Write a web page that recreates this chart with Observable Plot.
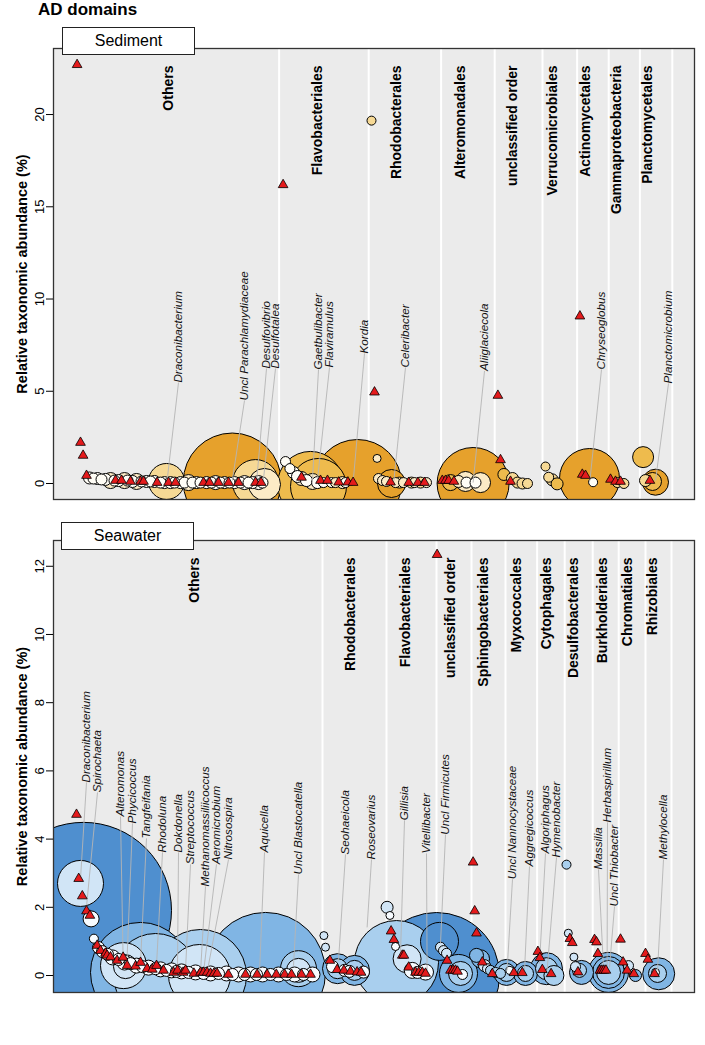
<!DOCTYPE html>
<html><head><meta charset="utf-8">
<script src="https://cdn.jsdelivr.net/npm/d3@7"></script>
<script src="https://cdn.jsdelivr.net/npm/@observablehq/plot@0.6"></script>
<style>
body{margin:0;background:#fff;font-family:"Liberation Sans",Arial,Helvetica,sans-serif;}
#wrap{position:relative;width:705px;height:1045px;overflow:hidden;}
.panel{position:absolute;left:0;}
.title{position:absolute;left:38px;top:0px;font-weight:bold;font-size:17px;line-height:20px;}
.box{position:absolute;box-sizing:border-box;width:133px;height:28px;border:1.5px solid #222;background:#fff;font-size:16px;text-align:center;line-height:25px;z-index:2;}
</style></head>
<body><div id="wrap">
<div class="title">AD domains</div>
<div id="p1" class="panel" style="top:0px"></div>
<div id="p2" class="panel" style="top:505px"></div>
<div class="box" style="left:62px;top:27px">Sediment</div>
<div class="box" style="left:61px;top:522px">Seawater</div>
</div>
<script>
// ---------- shared ----------
const shadeNames = ["dark", "mid", "light", "pale", "white"];
const sedimentPalette = ["#e6a12c", "#eebb4d", "#f6d995", "#fcebc6", "#fffdf6"];
const seawaterPalette = ["#4f8fcf", "#80b5e4", "#a9cfee", "#d1e5f6", "#f7fbff"];

// ---------- Sediment ----------
const sedimentTicks = [0, 5, 10, 15, 20];
const sedimentSeparators = [56.4, 78.8, 96.9, 110.3, 122.25, 130.9, 138.8, 146.6, 154.7];
const sedimentOrders = [["Others", 28.75], ["Flavobacteriales", 65.9], ["Rhodobacterales", 85.75], ["Alteromonadales", 101.75], ["unclassified order", 114.7], ["Verrucomicrobiales", 124.7], ["Actinomycetales", 133], ["Gammaproteobacteria", 140.75], ["Planctomycetales", 148.5]];
// [rank position, abundance %, bubble size, shade]
const sedimentBubbles = [
  [28.25, 0.11, 3.6, "light"], [44.7, 0.08, 9.8, "dark"], [50.5, 0.05, 4.6, "light"], [52.75, -0.05, 3.2, "pale"],
  [64.25, -0.05, 6.6, "mid"], [66.25, -0.16, 5.6, "mid"], [76.0, 0, 8.8, "dark"],
  [80.9, 1.36, 0.8, "pale"], [79.5, 19.67, 0.9, "light"], [84.5, 0, 2.8, "dark"],
  [104.9, 0, 7.2, "dark"], [99.25, 0.05, 1.6, "mid"], [103.0, 0.11, 2.0, "pale"], [106.75, 0.05, 2.0, "pale"],
  [103.25, 0.05, 1.1, "white"], [105.5, 0.05, 1.1, "white"], [101.25, 0.11, 1.2, "pale"],
  [112.6, 0.49, 1.2, "mid"], [114.75, 0.27, 1.2, "light"], [116, 0.05, 1.1, "light"], [117.25, 0, 1.1, "light"], [118.5, 0, 1.0, "light"],
  [123, 0.92, 0.9, "light"], [123.8, 0.34, 1.0, "light"], [124.7, 0.2, 1.2, "light"], [125.9, -0.02, 1.2, "mid"],
  [134, 0.27, 6.0, "dark"], [134.9, 0.07, 0.9, "white"], [141, 0.05, 1.0, "light"], [142.6, 0, 1.0, "light"],
  [147.4, 1.43, 2.1, "mid"], [150.5, 0.07, 2.6, "dark"], [149.75, 0.11, 1.8, "mid"], [148, 0.16, 1.2, "light"],
  [9, 0.3, 1.2, "white"], [10, 0.27, 1.1, "white"], [11, 0.27, 1.2, "white"], [12, 0.22, 1.1, "white"], [13, 0.22, 1.2, "white"],
  [14.25, 0.16, 1.6, "pale"], [15.25, 0.16, 1.1, "white"], [16.25, 0.16, 1.2, "white"], [17.75, 0.16, 1.6, "pale"], [18.5, 0.16, 1.1, "white"],
  [19.75, 0.11, 1.2, "white"], [20.75, 0.11, 1.6, "pale"], [22, 0.11, 1.1, "white"], [23.25, 0.11, 1.2, "white"], [24.25, 0.11, 1.1, "white"],
  [25.25, 0.11, 1.2, "white"], [26.75, 0.05, 1.1, "white"], [27.75, 0.05, 1.2, "white"], [29.25, 0.05, 1.2, "white"], [30.25, 0.05, 1.1, "white"],
  [31.75, 0.05, 1.2, "white"], [32.75, 0.05, 1.1, "white"], [33.75, 0.05, 1.6, "pale"], [34.75, 0.05, 1.1, "white"], [35.75, 0.05, 1.2, "white"],
  [36.75, 0.05, 1.1, "white"], [38.25, 0.05, 1.2, "white"], [39.5, 0.05, 1.1, "white"], [40.5, 0.05, 1.4, "white"], [41.75, 0.05, 1.1, "white"],
  [42.75, 0.05, 1.2, "white"], [44, 0.05, 1.1, "white"], [45.25, 0.05, 1.2, "white"], [46.75, 0.05, 1.1, "white"], [47.75, 0.05, 1.4, "white"],
  [48.75, 0.05, 1.1, "white"], [49.75, 0.05, 1.2, "white"], [51.25, 0.05, 1.4, "white"], [52.25, 0.05, 1.1, "white"],
  [58, 1.19, 1.0, "white"], [59.1, 0.81, 1.0, "white"], [60, 0.6, 1.2, "white"], [61, 0.38, 1.2, "white"], [62, 0.27, 1.4, "pale"],
  [63.25, 0.16, 1.2, "white"], [64.75, 0.11, 1.6, "pale"], [66, 0.05, 1.2, "white"], [67.5, 0.05, 1.0, "white"], [69.5, 0.05, 1.0, "white"],
  [70.5, 0.05, 1.0, "pale"], [72.25, 0.05, 1.2, "pale"], [73, 0.05, 1.0, "white"],
  [81.25, 0.27, 1.0, "pale"], [82.25, 0.16, 1.0, "pale"], [83.25, 0.11, 1.0, "pale"], [85.5, 0.05, 1.0, "pale"], [86.5, 0.05, 1.1, "light"],
  [87.5, 0.05, 1.0, "pale"], [89.5, 0.05, 1.1, "light"], [90.25, 0.05, 1.0, "pale"], [91.75, 0.05, 1.1, "light"], [93.25, 0.05, 1.0, "pale"]
];
// [rank position, abundance %]
const sedimentTriangles = [[5.9, 22.7], [6.75, 2.22], [7.4, 1.52], [8.25, 0.43], [15.5, 0.16], [17, 0.16], [19.25, 0.11], [21.75, 0.11], [22.5, 0.11], [25.9, 0.05], [28.75, 0.05], [30.5, 0.05], [37.5, 0.05], [39, 0.05], [41.25, 0.05], [43.75, 0.05], [46.25, 0.05], [50.5, 0.05], [51.9, 0.05], [57.4, 16.19], [62, 0.33], [66.75, 0.16], [68.5, 0.16], [71.3, 0.07], [73.6, 0.07], [74.9, 0.05], [80.25, 4.95], [84.25, 0.07], [88.8, 0.05], [91.1, 0.05], [92.75, 0.05], [97.2, 0.16], [98, 0.16], [98.8, 0.16], [100.1, 0.11], [111.1, 4.77], [111.75, 1.28], [114.25, 0.11], [131.6, 9.07], [132.2, 0.49], [133, 0.43], [139.25, 0.22], [140.5, 0.11], [141.75, 0.11], [149.1, 0.16]];
// [genus, point position, point abundance, label position, label abundance]
const sedimentGenera = [
  ["Draconibacterium", 28.4, 0.16, 31.25, 5.47], ["Uncl Parachlamydiaceae", 44.7, 0.16, 47.75, 4.5],
  ["Desulfovibrio", 50.75, 0.05, 53.25, 6.23], ["Desulfotalea", 52.4, 0.05, 55.5, 6.23],
  ["Gaetbulibacter", 64.7, 0, 66.25, 6.18], ["Flaviramulus", 65.9, 0, 69, 6.29], ["Kordia", 74.9, 0.05, 77.75, 7.05],
  ["Celeribacter", 85.1, 0.16, 88, 6.29], ["Aliiglaciecola", 104.9, 0.05, 107.75, 6.1],
  ["Chryseoglobus", 134.1, 0.16, 137, 6.18], ["Planctomicrobium", 150.5, 0.16, 153.75, 5.42]
];

// ---------- Seawater ----------
const seawaterTicks = [0, 2, 4, 6, 8, 10, 12];
const seawaterSeparators = [67.25, 83.25, 95.75, 104.5, 113, 120.9, 127.8, 134.8, 141.3, 148, 154.5];
const seawaterOrders = [["Others", 35.3], ["Rhodobacterales", 74.25], ["Flavobacteriales", 88], ["unclassified order", 99.25], ["Sphingobacteriales", 107.6], ["Myxococcales", 115.75], ["Cytophagales", 123.25], ["Desulfobacterales", 130], ["Burkholderiales", 137.2], ["Chromatiales", 143.6], ["Rhizobiales", 149.7]];
const seawaterBubbles = [
  [7.5, 1.91, 17.6, "dark"], [6.75, 2.7, 4.6, "pale"], [9.4, 1.66, 1.6, "white"], [10.1, 1.08, 0.9, "white"],
  [21.75, 0.09, 10, "mid"], [25.5, 0, 8.4, "light"], [17.5, 0.29, 4.6, "pale"], [18, 0.26, 2.4, "pale"],
  [36.75, 0, 9.2, "light"], [36.5, 0, 6.2, "pale"], [53, 0.09, 12, "mid"], [61.25, 0.2, 3.6, "light"], [61.25, 0.15, 2.4, "pale"],
  [11.25, 0.82, 1.2, "white"], [12.25, 0.7, 1.2, "white"], [13.5, 0.62, 1.2, "white"], [14.75, 0.53, 1.5, "white"], [16.25, 0.47, 1.2, "white"],
  [17.75, 0.38, 1.5, "white"], [19.25, 0.35, 1.2, "white"], [20.75, 0.29, 1.5, "white"], [22.25, 0.26, 1.2, "white"], [23.75, 0.23, 1.5, "white"],
  [25.5, 0.2, 1.2, "white"], [26.75, 0.18, 1.5, "white"], [28.25, 0.15, 1.2, "white"], [29.5, 0.15, 1.5, "white"], [30.75, 0.12, 1.2, "white"],
  [32, 0.12, 1.5, "white"], [33.75, 0.09, 1.2, "white"], [35.5, 0.09, 1.5, "white"], [37.5, 0.06, 1.2, "white"], [39.25, 0.06, 1.5, "white"],
  [41.25, 0.06, 1.2, "white"], [43.25, 0.06, 1.5, "white"], [44.75, 0.03, 1.2, "white"], [46.25, 0.03, 1.5, "white"], [47.75, 0.03, 1.2, "white"],
  [49.25, 0.03, 1.5, "white"], [50.75, 0.03, 1.2, "white"], [52.25, 0.03, 1.5, "white"], [54.25, 0.03, 1.2, "white"], [56.25, 0.03, 1.5, "white"],
  [58.25, 0.03, 1.2, "white"], [60.25, 0.03, 1.5, "white"], [62.5, 0.03, 1.2, "white"], [64.75, 0.03, 1.5, "white"],
  [67.6, 1.17, 0.8, "pale"], [68, 0.83, 0.8, "pale"], [71, 0.2, 3.0, "mid"], [71, 0.2, 2.0, "light"], [75.25, 0.15, 3.0, "mid"], [75.25, 0.15, 2.0, "light"],
  [72.75, 0.15, 1.2, "white"], [74, 0.12, 1.2, "white"], [69.75, 0.26, 1.2, "white"], [77.5, 0.1, 1.2, "white"],
  [95.75, 0, 12.6, "dark"], [85.75, 0.38, 8.4, "light"], [83.4, 2.0, 1.2, "pale"], [84.1, 1.76, 0.8, "white"], [88.4, 0.49, 2.8, "pale"],
  [85.5, 0.85, 0.8, "white"], [89.7, 0.15, 1.6, "white"], [93, 0.1, 1.6, "white"], [91, 0.09, 1.2, "white"],
  [96.5, 1.0, 3.8, "dark"], [96.75, 0.83, 1.0, "pale"], [97.5, 0.73, 1.0, "pale"], [98.25, 0.65, 1.0, "pale"],
  [101.25, 0.06, 3.8, "mid"], [101.75, 0.06, 2.4, "light"], [102.25, 0.03, 1.0, "white"], [105.75, 0.59, 1.4, "mid"],
  [106.75, 0.49, 1.8, "mid"], [107.75, 0.29, 1.2, "pale"], [108.5, 0.2, 1.0, "pale"], [109.25, 0.15, 1.0, "light"], [110.5, 0.09, 1.0, "light"], [111.75, 0.06, 1.0, "light"],
  [113.25, 0.09, 2.6, "mid"], [113.25, 0.09, 1.8, "light"], [114.1, 0.15, 0.8, "white"], [118, 0.06, 2.4, "mid"], [118, 0.06, 1.6, "light"],
  [123.25, 0.2, 3.2, "mid"], [123.25, 0.2, 2.2, "light"], [125.1, 0, 2.0, "light"],
  [128.25, 3.25, 0.9, "light"], [128.7, 1.24, 0.8, "pale"], [130.1, 0.54, 0.8, "pale"], [130.5, 0.26, 1.0, "pale"], [132, 0.09, 2.4, "mid"], [131.5, 0.15, 1.4, "light"],
  [138.75, 0.09, 4.0, "mid"], [138.75, 0.09, 3.2, "mid"], [138.75, 0.09, 2.4, "light"],
  [143.75, 0.29, 1.0, "pale"], [145.5, 0, 1.2, "mid"],
  [151.3, 0.05, 3.2, "mid"], [151, 0.06, 1.8, "light"], [150.5, 0.09, 0.8, "white"]
];
const seawaterTriangles = [[5.75, 4.72], [6.3, 2.84], [7.2, 2.33], [8.25, 1.89], [9.1, 1.76], [10.9, 0.88], [11.75, 0.73], [13, 0.65], [13.4, 0.59], [14.25, 0.54], [15.9, 0.44], [17.4, 0.53], [18.4, 0.29], [20.5, 0.27], [21.75, 0.38], [23.4, 0.2], [24.7, 0.18], [25.75, 0.29], [27.5, 0.15], [30, 0.09], [31, 0.15], [32.4, 0.09], [33, 0.15], [35.1, 0.06], [36.75, 0.09], [37.5, 0.09], [38.4, 0.09], [39.25, 0.06], [40.1, 0.06], [40.9, 0.06], [43.7, 0.03], [48, 0.03], [50.9, 0.03], [53.4, 0.03], [55.7, 0.03], [57.8, 0.03], [59.5, 0.03], [62, 0.03], [64.25, 0.03], [69.1, 0.44], [70.9, 0.17], [72.6, 0.15], [74.25, 0.12], [75.9, 0.1], [76.9, 0.09], [84.4, 1.3], [85.1, 1.05], [87.2, 0.59], [87.6, 0.59], [88.8, 0.24], [90.5, 0.09], [91.3, 0.09], [92.2, 0.09], [93, 0.06], [95.9, 12.34], [98.4, 0.44], [99.25, 0.15], [99.9, 0.15], [100.5, 0.15], [101, 0.12], [104.9, 3.32], [105.3, 1.89], [105.75, 1.24], [107.2, 0.39], [109.7, 0.05], [115.1, 0.08], [117.2, 0.08], [121.1, 0.7], [121.6, 0.52], [122.2, 0.17], [124.4, 0.05], [129.1, 1.08], [129.7, 0.96], [131.1, 0.1], [135.25, 1.05], [135.75, 0.98], [136.1, 0.64], [136.6, 0.15], [137.1, 0.15], [137.6, 0.15], [138.1, 0.15], [141.75, 1.06], [142.4, 0.39], [143.4, 0.15], [145.1, 0.05], [148, 0.64], [148.6, 0.47], [150.25, 0.05]];
const seawaterGenera = [
  ["Draconibacterium", 6.75, 2.84, 8.25, 5.66], ["Spirochaeta", 8.25, 2.02, 11, 5.37],
  ["Alteromonas", 17.4, 0.53, 16.75, 4.66], ["Phycicoccus", 18.4, 0.53, 19.75, 4.46],
  ["Tangfeifania", 21.75, 0.38, 23.25, 4.02], ["Rhodoluna", 25.75, 0.29, 27.25, 3.61],
  ["Dokdonella", 31, 0.15, 31.25, 3.61], ["Streptococcus", 33, 0.15, 34.25, 3.26],
  ["Methanomassiliicoccus", 36.75, 0.09, 38, 2.61], ["Aeromicrobium", 37.5, 0.09, 40.75, 3.26],
  ["Nitrosospira", 38.4, 0.09, 43.75, 3.4], ["Aquicella", 51.5, 0.09, 52.75, 3.61],
  ["Uncl Blastocatella", 60, 0.29, 61.25, 2.96], ["Seohaeicola", 71.25, 0.44, 73, 3.55],
  ["Roseovarius", 78.4, 1.41, 79.5, 3.4], ["Gillisia", 86.75, 0.65, 87.75, 4.55],
  ["Vitellibacter", 93.4, 0.15, 93.25, 3.58], ["Uncl Firmicutes", 96.75, 0.94, 98, 4.13],
  ["Uncl Nannocystaceae", 113.4, 0.15, 114.75, 2.82], ["Aggregicoccus", 117.75, 0.15, 119, 3.2],
  ["Algoriphagus", 121.5, 0.35, 123, 3.58], ["Hymenobacter", 123.4, 0.15, 125.75, 3.46],
  ["Massilia", 137.5, 0.23, 136.25, 3.11], ["Herbaspirillum", 138.4, 0.23, 138.5, 4.49],
  ["Uncl Thiobacter", 139, 0.23, 140.25, 2.02], ["Methylocella", 151, 0.15, 152.5, 3.4]
];

const FONT = '"Liberation Sans", Arial, Helvetica, sans-serif';

function panel({bubbles, triangles, genera, orders, separators, ticks, yDomain, height, marginTop, marginBottom, palette}) {
  const sortedBubbles = d3.sort(bubbles, d => -d[2]);
  return Plot.plot({
    width: 705, height, marginLeft: 53, marginRight: 11, marginTop, marginBottom,
    style: {fontFamily: FONT, background: "transparent", overflow: "visible"},
    x: {domain: [0, 160.25], axis: null},
    y: {domain: yDomain, axis: null},
    r: {type: "linear", domain: [0, 10], range: [0, 50]},
    color: {domain: shadeNames, range: palette},
    marks: [
      Plot.frame({fill: "#ebebeb"}),
      Plot.ruleX(separators, {stroke: "#ffffff", strokeWidth: 2}),
      Plot.dot(sortedBubbles, {x: d => d[0], y: d => d[1], r: d => d[2], fill: d => d[3], stroke: "#000", strokeWidth: 1, clip: true}),
      Plot.link(genera, {x1: d => d[1], y1: d => d[2], x2: d => d[3], y2: d => d[4], stroke: "#b4b4b4", strokeWidth: 0.9}),
      Plot.dot(triangles, {x: d => d[0], y: d => d[1], symbol: "triangle", r: 3.6, fill: "#e41a1c", stroke: "#000", strokeWidth: 0.8}),
      Plot.text(genera, {x: d => d[3], y: d => d[4], text: d => d[0], rotate: -90, textAnchor: "start", lineAnchor: "middle", fontStyle: "italic", fontSize: 11.7, fill: "#111"}),
      Plot.text(orders, {x: d => d[1], text: d => d[0], frameAnchor: "top", dy: 17, rotate: -90, textAnchor: "end", lineAnchor: "middle", fontWeight: "bold", fontSize: 14, fill: "#000"}),
      Plot.frame({stroke: "#333", strokeWidth: 1.3}),
      Plot.axisY(ticks, {tickSize: 7, tickRotate: -90, fontSize: 13, tickPadding: 3, label: null, stroke: "#000"}),
      Plot.text(["Relative taxonomic abundance (%)"], {frameAnchor: "left", dx: -31, rotate: -90, textAnchor: "middle", lineAnchor: "middle", fontWeight: "bold", fontSize: 14.5, fill: "#000"})
    ]
  });
}

document.getElementById("p1").appendChild(panel({
  bubbles: sedimentBubbles, triangles: sedimentTriangles, genera: sedimentGenera, orders: sedimentOrders,
  separators: sedimentSeparators, ticks: sedimentTicks, yDomain: [-0.867, 23.58], height: 505, marginTop: 48, marginBottom: 6,
  palette: sedimentPalette
}));
document.getElementById("p2").appendChild(panel({
  bubbles: seawaterBubbles, triangles: seawaterTriangles, genera: seawaterGenera, orders: seawaterOrders,
  separators: seawaterSeparators, ticks: seawaterTicks, yDomain: [-0.4985, 12.756], height: 540, marginTop: 35, marginBottom: 53,
  palette: seawaterPalette
}));
</script>
</body></html>
